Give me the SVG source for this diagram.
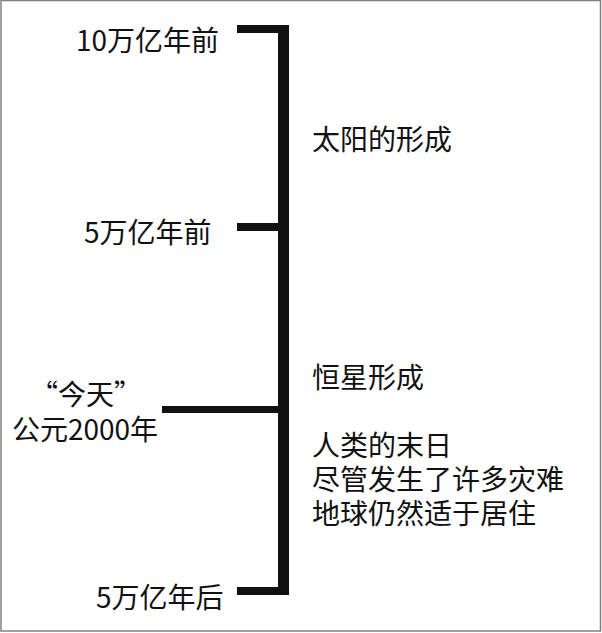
<svg xmlns="http://www.w3.org/2000/svg" width="602" height="633" viewBox="0 0 602 633">
<style>
.t{font-family:"Noto Sans CJK SC","Liberation Sans",sans-serif;font-size:28px;fill:#111}
.bar{fill:#111}
</style>
<rect x="0" y="0" width="602" height="633" fill="#fff"/>
<rect x="1" y="0.5" width="599.5" height="630.5" fill="none" stroke="#808080" stroke-width="1.5"/>
<g id="connectors">
<rect class="bar" x="278" y="25" width="11" height="570"/>
<rect class="bar" x="237" y="25" width="52" height="8"/>
<rect class="bar" x="237" y="223" width="52" height="8"/>
<rect class="bar" x="162" y="406" width="127" height="7"/>
<rect class="bar" x="237" y="587" width="52" height="8"/>
</g>
<g id="label-10">
<text class="t" x="76" y="51">10万亿年前</text>
</g>
<g id="label-5before">
<text class="t" x="84" y="243">5万亿年前</text>
</g>
<g id="label-today">
<text class="t" x="86" y="405" text-anchor="middle">“今天”</text>
<text class="t" x="85" y="440" text-anchor="middle">公元2000年</text>
</g>
<g id="label-5after">
<text class="t" x="96" y="608">5万亿年后</text>
</g>
<g id="event-sun">
<text class="t" x="312" y="150">太阳的形成</text>
</g>
<g id="event-stars">
<text class="t" x="312" y="388">恒星形成</text>
</g>
<g id="event-end">
<text class="t" x="312" y="456">人类的末日</text>
<text class="t" x="312" y="490">尽管发生了许多灾难</text>
<text class="t" x="312" y="524">地球仍然适于居住</text>
</g>
</svg>
